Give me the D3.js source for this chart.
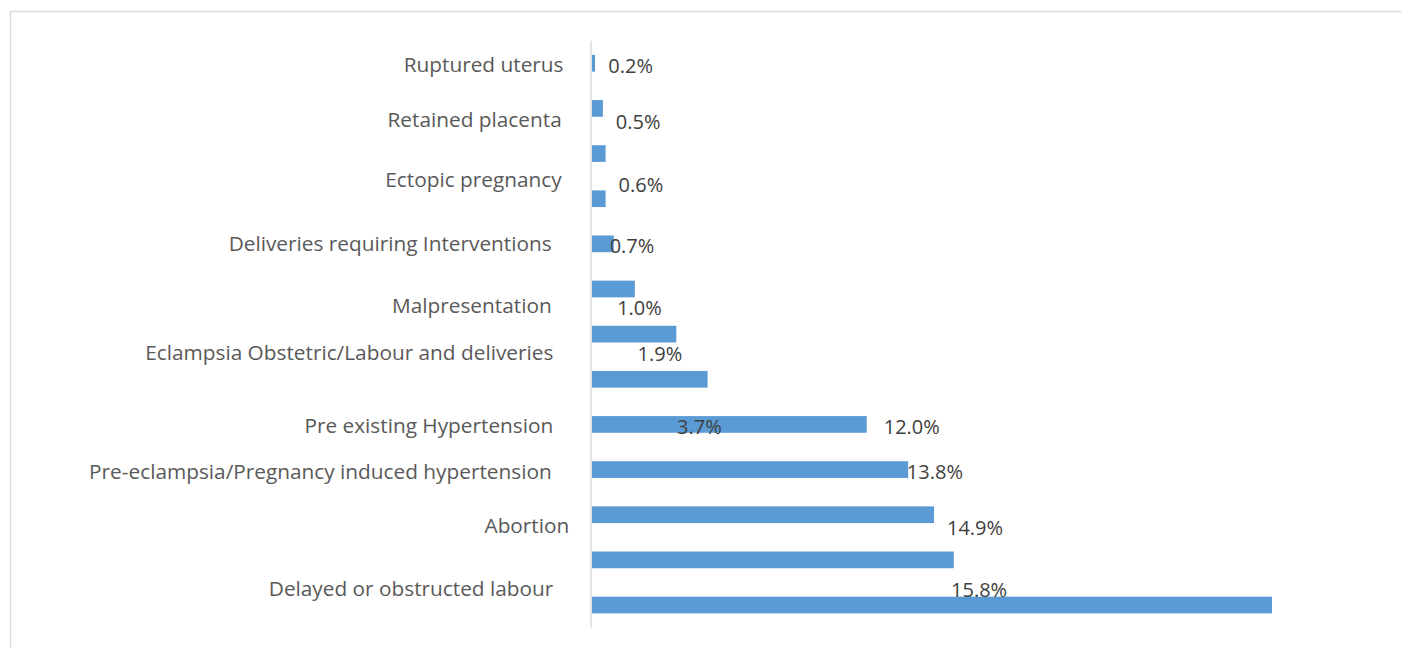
<!DOCTYPE html>
<html>
<head>
<meta charset="utf-8">
<script src="https://cdn.jsdelivr.net/npm/d3@7"></script>
<style>
  html, body { margin: 0; padding: 0; background: #ffffff; }
  svg { display: block; }
</style>
</head>
<body>
<svg id="chart" width="1401" height="648"></svg>
<script>
// ---------- data ----------
// 13 bars, top to bottom (relative lengths)
const barIds = ["b1","b2","b3","b4","b5","b6","b7","b8","b9","b10","b11","b12","b13"];
const barValues = [0.45, 1.6, 2.0, 2.0, 3.2, 6.3, 12.4, 17.0, 40.4, 46.5, 50.3, 53.2, 100];

// category labels (as placed in the original)
const categories = [
  "Ruptured uterus",
  "Retained placenta",
  "Ectopic pregnancy",
  "Deliveries requiring Interventions",
  "Malpresentation",
  "Eclampsia Obstetric/Labour and deliveries",
  "Pre existing Hypertension",
  "Pre-eclampsia/Pregnancy induced hypertension",
  "Abortion",
  "Delayed or obstructed labour"
];

// percentage data labels
const pctLabels = ["0.2%","0.5%","0.6%","0.7%","1.0%","1.9%","3.7%","12.0%","13.8%","14.9%","15.8%"];

// ---------- layout (placement of the free-floating labels, in slot / value units) ----------
const catSlots = [0.03, 1.25, 2.59, 4.00, 5.38, 6.42, 8.03, 9.05, 10.26, 11.65];
const catGaps  = [28.5, 30.3, 30.3, 40.3, 40.3, 38.7, 38.7, 40.3, 22.7, 38.7];
const pctSlots = [0.07, 1.31, 2.69, 4.05, 5.41, 6.43, 8.06, 8.06, 9.06, 10.29, 11.66];
const pctX     = [2.4, 3.5, 3.9, 2.6, 3.7, 6.7, 12.5, 42.9, 46.3, 52.2, 52.8];

// ---------- drawing ----------
const svg = d3.select("#chart");
const axisX = 592, plotRight = 1272;
const plotTop = 40.7, plotBottom = 627.6;

// chart border
svg.append("rect")
  .attr("x", 10.5).attr("y", 11.5)
  .attr("width", 1400).attr("height", 700)
  .attr("fill", "#ffffff")
  .attr("stroke", "#d9d9d9").attr("stroke-width", 1.5);

const x = d3.scaleLinear().domain([0, 100]).range([axisX, plotRight]);
const y = d3.scaleBand().domain(barIds).range([plotTop, plotBottom]).paddingInner(0.63).paddingOuter(0.315);
const step = y.step();
const c0 = y(barIds[0]) + y.bandwidth() / 2;
const slot = d3.scaleLinear().domain([0, 1]).range([c0, c0 + step]);

// bars
svg.append("g").selectAll("rect")
  .data(barValues)
  .join("rect")
  .attr("x", x(0))
  .attr("y", (d, i) => y(barIds[i]))
  .attr("width", d => x(d) - x(0))
  .attr("height", y.bandwidth())
  .attr("fill", "#5b9bd5");

// vertical category axis line
svg.append("line")
  .attr("x1", axisX - 1).attr("x2", axisX - 1)
  .attr("y1", plotTop).attr("y2", plotBottom)
  .attr("stroke", "#d9d9d9").attr("stroke-width", 1.5);

const font = "'Open Sans', 'Noto Sans', sans-serif";
const capHalf = 7;

// category labels
svg.append("g").selectAll("text")
  .data(categories)
  .join("text")
  .attr("x", (d, i) => axisX - catGaps[i])
  .attr("y", (d, i) => slot(catSlots[i]) + capHalf)
  .attr("text-anchor", "end")
  .attr("font-family", font)
  .attr("font-size", 20.8)
  .attr("fill", "#595959")
  .text(d => d);

// percentage labels
svg.append("g").selectAll("text")
  .data(pctLabels)
  .join("text")
  .attr("x", (d, i) => x(pctX[i]))
  .attr("y", (d, i) => slot(pctSlots[i]) + capHalf)
  .attr("font-family", font)
  .attr("font-size", 20)
  .attr("fill", "#404040")
  .text(d => d);
</script>
</body>
</html>
